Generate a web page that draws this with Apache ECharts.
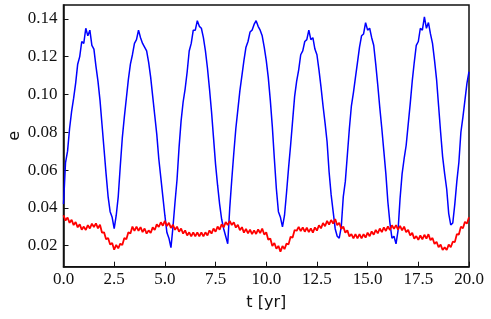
<!DOCTYPE html>
<html>
<head>
<meta charset="utf-8">
<script src="https://cdn.jsdelivr.net/npm/echarts@6/dist/echarts.min.js"></script>
<style>html,body{margin:0;padding:0;background:#fff}#c{width:491px;height:319px}</style>
</head>
<body>
<div id="c"></div>
<script>
// sample times: 0.0 .. 20.0 yr, step 0.1
const timeStep = 0.1;
const blueE = [
0.042,0.064,0.070,0.082,0.091,0.098,0.106,0.116,0.120,0.128,
0.127,0.135,0.131,0.134,0.126,0.124,0.115,0.107,0.097,0.084,
0.071,0.058,0.046,0.038,0.035,0.029,0.036,0.046,0.062,0.077,
0.088,0.098,0.108,0.116,0.121,0.127,0.129,0.134,0.130,0.127,
0.125,0.123,0.117,0.109,0.099,0.089,0.079,0.066,0.056,0.046,
0.036,0.027,0.024,0.019,0.030,0.043,0.055,0.072,0.086,0.096,
0.103,0.112,0.123,0.127,0.134,0.134,0.139,0.136,0.135,0.130,
0.123,0.114,0.103,0.091,0.077,0.063,0.052,0.042,0.034,0.029,
0.025,0.021,0.040,0.055,0.069,0.082,0.092,0.102,0.110,0.118,
0.125,0.128,0.133,0.134,0.137,0.139,0.136,0.134,0.131,0.125,
0.118,0.109,0.097,0.083,0.066,0.050,0.038,0.035,0.030,0.036,
0.048,0.061,0.073,0.086,0.099,0.107,0.113,0.121,0.123,0.128,
0.129,0.134,0.129,0.130,0.124,0.121,0.113,0.104,0.094,0.085,
0.075,0.059,0.047,0.038,0.029,0.025,0.024,0.030,0.046,0.054,
0.068,0.082,0.094,0.101,0.109,0.117,0.125,0.131,0.132,0.138,
0.134,0.135,0.130,0.126,0.116,0.105,0.093,0.082,0.070,0.058,
0.043,0.032,0.024,0.025,0.021,0.028,0.045,0.058,0.066,0.073,
0.084,0.095,0.107,0.117,0.126,0.128,0.135,0.134,0.141,0.135,
0.138,0.132,0.127,0.118,0.108,0.094,0.080,0.067,0.058,0.050,
0.037,0.031,0.032,0.042,0.054,0.064,0.080,0.088,0.097,0.106,
0.112
];
const redE = [
0.0361,0.0333,0.0349,0.0321,0.0337,0.0309,0.0325,0.0297,0.0313,0.0285,
0.0301,0.0283,0.0309,0.0291,0.0317,0.0299,0.0318,0.0292,0.0311,0.0269,
0.0271,0.0234,0.0241,0.0206,0.0214,0.0179,0.0204,0.0186,0.0211,0.0204,
0.0241,0.0234,0.0271,0.0264,0.0301,0.0279,0.0301,0.0279,0.0298,0.0272,
0.0291,0.0264,0.0281,0.0267,0.0297,0.0283,0.0313,0.0299,0.0324,0.0306,
0.0331,0.0304,0.0321,0.0294,0.0311,0.0284,0.0301,0.0274,0.0291,0.0264,
0.0281,0.0254,0.0271,0.0249,0.0271,0.0249,0.0271,0.0249,0.0271,0.0249,
0.0271,0.0254,0.0281,0.0264,0.0291,0.0274,0.0301,0.0285,0.0313,0.0297,
0.0325,0.0309,0.0331,0.0309,0.0324,0.0296,0.0311,0.0282,0.0298,0.0269,
0.0289,0.0265,0.0285,0.0261,0.0281,0.0262,0.0286,0.0267,0.0291,0.0259,
0.0271,0.0232,0.0238,0.0199,0.0214,0.0184,0.0199,0.0169,0.0198,0.0182,
0.0211,0.0207,0.0247,0.0243,0.0283,0.0279,0.0300,0.0277,0.0297,0.0274,
0.0295,0.0272,0.0292,0.0269,0.0297,0.0280,0.0308,0.0292,0.0320,0.0303,
0.0331,0.0312,0.0336,0.0317,0.0341,0.0309,0.0321,0.0289,0.0301,0.0269,
0.0281,0.0249,0.0261,0.0239,0.0261,0.0239,0.0261,0.0239,0.0261,0.0243,
0.0269,0.0250,0.0276,0.0258,0.0284,0.0265,0.0291,0.0272,0.0297,0.0278,
0.0302,0.0283,0.0308,0.0289,0.0309,0.0285,0.0305,0.0281,0.0301,0.0271,
0.0284,0.0254,0.0268,0.0237,0.0251,0.0231,0.0254,0.0234,0.0258,0.0237,
0.0261,0.0229,0.0241,0.0209,0.0221,0.0192,0.0206,0.0177,0.0191,0.0177,
0.0206,0.0192,0.0221,0.0219,0.0261,0.0259,0.0301,0.0292,0.0326,0.0317,
0.0351
];
const xTickInterval = 2.5;
const yTickValues = [0.02,0.04,0.06,0.08,0.10,0.12,0.14];

const toPairs = arr => arr.map((v, i) => [+(i * timeStep).toFixed(1), v]);

const chart = echarts.init(document.getElementById('c'));
const tickFont = {fontFamily: 'Liberation Serif', fontSize: 17, color: '#111'};
chart.setOption({
  animation: false,
  grid: {left: 63.5, right: 22, top: 5, bottom: 52.3, outerBoundsMode: 'none', containLabel: false,
         show: true, borderColor: '#111', borderWidth: 1.5, backgroundColor: 'transparent'},
  xAxis: {
    type: 'value', min: 0, max: 20, interval: xTickInterval,
    name: 't [yr]', nameLocation: 'middle', nameGap: 28, nameMoveOverlap: false,
    nameTextStyle: {fontFamily: 'DejaVu Sans', fontSize: 16, color: '#111'},
    axisLine: {show: true, lineStyle: {color: '#111', width: 1.5}},
    axisTick: {show: true, inside: true, length: 5, lineStyle: {color: '#111', width: 1}},
    axisLabel: Object.assign({margin: 4, formatter: v => v.toFixed(1)}, tickFont),
    splitLine: {show: false}
  },
  yAxis: {
    type: 'value', min: 0.0089, max: 0.1473,
    name: 'e', nameLocation: 'middle', nameGap: 41, nameRotate: 90, nameMoveOverlap: false,
    nameTextStyle: {fontFamily: 'DejaVu Sans', fontSize: 16, color: '#111'},
    axisLine: {show: true, lineStyle: {color: '#111', width: 1.5}},
    axisTick: {show: true, inside: true, length: 5, customValues: yTickValues, lineStyle: {color: '#111', width: 1}},
    axisLabel: Object.assign({margin: 6, customValues: yTickValues, formatter: v => v.toFixed(2)}, tickFont),
    splitLine: {show: false}
  },
  series: [
    {type: 'line', data: toPairs(blueE), showSymbol: false, symbol: 'none', lineStyle: {color: '#0000ff', width: 1.5}, z: 2},
    {type: 'line', data: toPairs(redE), showSymbol: false, symbol: 'none', lineStyle: {color: '#ff0000', width: 1.8}, z: 3}
  ]
});
</script>
</body>
</html>
